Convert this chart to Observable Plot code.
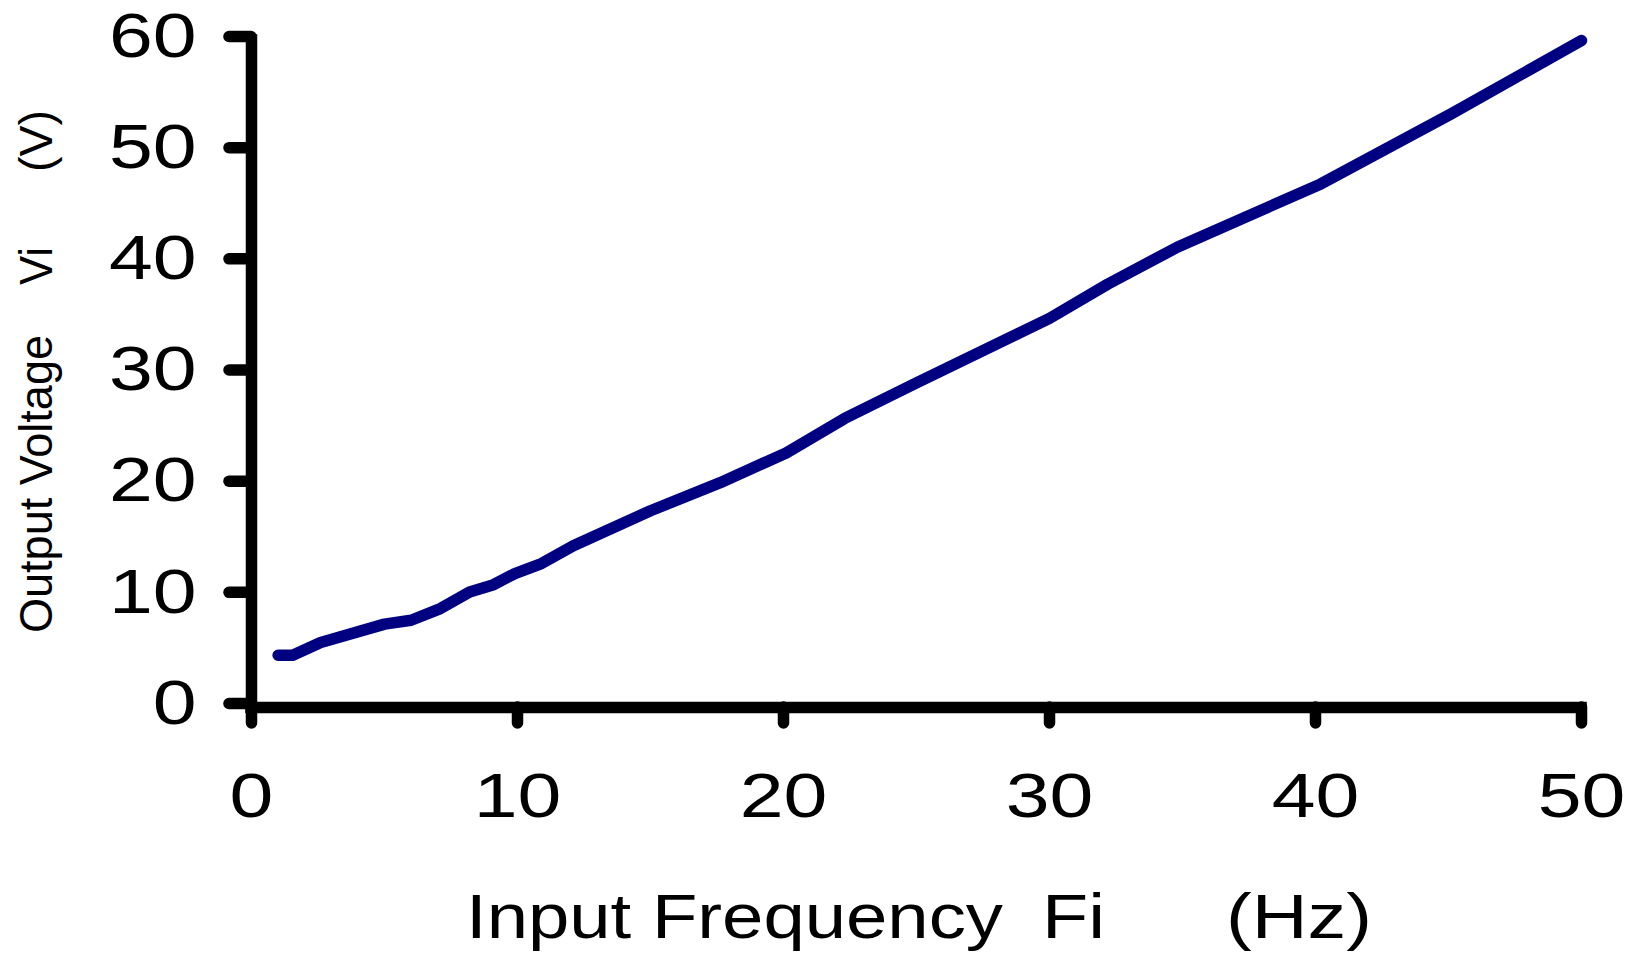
<!DOCTYPE html>
<html><head><meta charset="utf-8">
<script src="https://cdn.jsdelivr.net/npm/d3@7"></script>
<script src="https://cdn.jsdelivr.net/npm/@observablehq/plot@0.6"></script>
<style>
html,body{margin:0;padding:0;background:#fff;}
svg{display:block;}
</style></head><body><div id="chart"></div>
<script>
// Data
const frequency = [1.0, 1.55, 2.6, 5.0, 6.0, 7.1, 8.2, 9.1, 9.9, 10.9, 12.1, 15.0, 17.6, 20.1, 22.3, 25.0, 30.0, 32.2, 34.8, 40.2, 45.1, 50.0];
const voltage   = [4.7, 4.7, 5.85, 7.5, 7.85, 8.9, 10.4, 11.05, 12.05, 12.95, 14.55, 17.7, 20.2, 22.9, 26.0, 29.2, 35.0, 38.1, 41.4, 47.1, 53.4, 60.0];
const xTicks = [0, 10, 20, 30, 40, 50];
const yTicks = [0, 10, 20, 30, 40, 50, 60];
const xTitle = ["Input Frequency", "Fi", "(Hz)"];
const yTitle = ["Output Voltage", "Vi", "(V)"];

const data = frequency.map((f, i) => ({f, v: voltage[i]}));

const W = 1635, H = 954;
const plot = Plot.plot({
  width: W, height: H,
  marginLeft: 251, marginRight: 54, marginTop: 40, marginBottom: 247,
  style: {fontFamily: "'Liberation Sans', Arial, sans-serif", fontSize: "63px", background: "#fff", color: "#000"},
  x: {domain: [0, 50]},
  y: {domain: [0, 60]},
  marks: [
    Plot.axisX(xTicks, {tickSize: 16, tickPadding: 49, strokeWidth: 11.5, strokeLinecap: "round", label: null, tickFormat: d => String(d)}),
    Plot.axisY(yTicks, {tickSize: 22, tickPadding: 33, strokeWidth: 11.5, strokeLinecap: "round", label: null, dy: -4, tickFormat: d => String(d)}),
    Plot.ruleX([0], {y1: 0, y2: 60, stroke: "#000", strokeWidth: 11.5, strokeLinecap: "square"}),
    Plot.ruleY([0], {x1: 0, x2: 50, stroke: "#000", strokeWidth: 11.5, strokeLinecap: "square"}),
    Plot.line(data, {x: "f", y: "v", stroke: "#000080", strokeWidth: 11.5, strokeLinecap: "round", strokeLinejoin: "round"})
  ]
});
document.getElementById("chart").appendChild(plot);

// Stretch tick labels horizontally like the reference
d3.select(plot).selectAll("g[aria-label='x-axis tick label'] text, g[aria-label='y-axis tick label'] text").each(function() {
  const len = this.getComputedTextLength();
  this.setAttribute("textLength", (len * 1.25).toFixed(1));
  this.setAttribute("lengthAdjust", "spacingAndGlyphs");
});

// Axis titles
const svg = d3.select(plot);
const xPos = [{x: 466, len: 537}, {x: 1042, len: 63}, {x: 1226, len: 146}];
xTitle.forEach((t, i) => {
  svg.append("text")
    .attr("x", xPos[i].x).attr("y", 938)
    .attr("text-anchor", "start")
    .attr("font-size", 63).attr("fill", "#000")
    .attr("textLength", xPos[i].len).attr("lengthAdjust", "spacingAndGlyphs")
    .text(t);
});
const yPos = [{y: 633, len: 298}, {y: 285, len: 38}, {y: 172, len: 62}];
yTitle.forEach((t, i) => {
  svg.append("text")
    .attr("transform", `translate(52,${yPos[i].y}) rotate(-90)`)
    .attr("text-anchor", "start")
    .attr("font-size", 46).attr("fill", "#000")
    .attr("textLength", yPos[i].len).attr("lengthAdjust", "spacingAndGlyphs")
    .text(t);
});
</script></body></html>
